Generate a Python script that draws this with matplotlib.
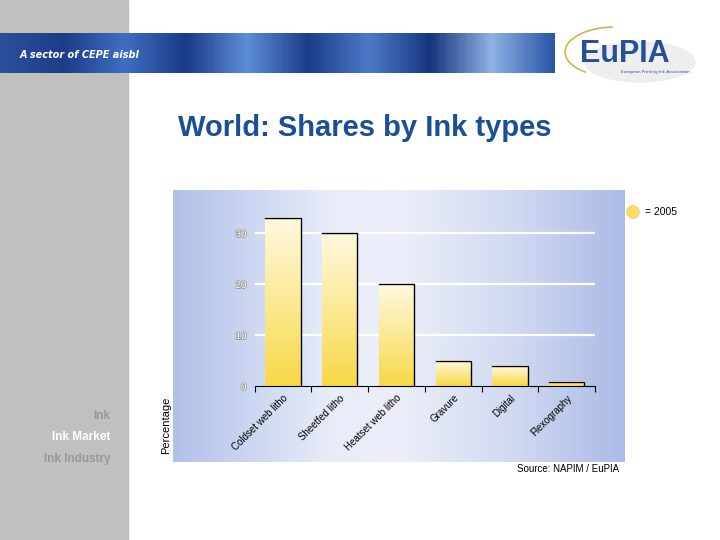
import numpy as np
import matplotlib.pyplot as plt
from matplotlib.colors import LinearSegmentedColormap
from matplotlib.patches import Rectangle, Circle, Arc, Ellipse
import matplotlib.patheffects as pe

categories = ["Coldset web litho", "Sheetfed litho", "Heatset web litho",
              "Gravure", "Digital", "Flexography"]
shares_2005 = [33, 30, 20, 5, 4, 0.8]
y_ticks = [0, 10, 20, 30]
side_menu = ["Ink", "Ink Market", "Ink Industry"]

W, H = 720, 540
fig = plt.figure(figsize=(7.2, 5.4), dpi=100)
fig.patch.set_facecolor("white")


def fax(x0, y0, x1, y1, z=0):
    # axes placed in pixel coords, y measured from top
    ax = fig.add_axes([x0 / W, 1 - y1 / H, (x1 - x0) / W, (y1 - y0) / H], zorder=z)
    ax.set_axis_off()
    return ax


# page decoration
deco = fax(0, 0, W, H, z=0)
deco.set_xlim(0, W)
deco.set_ylim(H, 0)
deco.add_patch(Rectangle((0, 0), 128, H, color="#c0c0c0"))

band = LinearSegmentedColormap.from_list(
    "band", ["#2b4f9c", "#1d3c88", "#3f6fc2", "#1a3a86", "#5d8fd6",
             "#1b3c8a", "#4b7bc8", "#17357e", "#8fb2e4", "#2a58a8"])
deco.imshow(np.linspace(0, 1, 200)[None, :], cmap=band, aspect="auto",
            extent=[0, 555, 73, 33], zorder=1)
deco.text(20, 55, "A sector of CEPE aisbl", color="white", fontsize=7,
          style="italic", weight="bold", va="center", zorder=2)

# logo
deco.add_patch(Ellipse((640, 62), 110, 40, color="#eeeeee", zorder=1))
deco.add_patch(Arc((615, 52), 100, 50, theta1=145, theta2=265,
                   color="#d6b24a", lw=1.2, zorder=2))
deco.text(625, 54, "EuPIA", color="#2a4f9a", fontsize=22, weight="bold",
          ha="center", va="center", family="Liberation Sans", zorder=3)
deco.text(655, 72, "European Printing Ink Association", color="#2a4f9a",
          fontsize=3, ha="center", va="center", zorder=3)

deco.text(365, 128, "World: Shares by Ink types", color="#1a4f96", fontsize=21,
          weight="bold", ha="center", va="center", family="Liberation Sans")
menu_colors = ["#999999", "white", "#999999"]
for i, (t, c) in enumerate(zip(side_menu, menu_colors)):
    deco.text(110, 416 + i * 21.5, t, color=c, fontsize=8.5, weight="bold",
              ha="right", va="center", family="Liberation Sans")

# chart panel background
panel = fax(173, 190, 625, 462, z=1)
bg = LinearSegmentedColormap.from_list(
    "bg", [(0, "#b2c1ea"), (0.35, "#e9edf9"), (0.5, "#eceff9"),
           (0.75, "#d2daf2"), (1, "#abbbe7")])
panel.imshow(np.linspace(0, 1, 256)[None, :], cmap=bg, aspect="auto",
             extent=[0, 1, 0, 1])
panel.set_xlim(0, 1)
panel.set_ylim(0, 1)

deco2 = fax(0, 0, W, H, z=3)
deco2.set_xlim(0, W)
deco2.set_ylim(H, 0)
deco2.patch.set_alpha(0)
deco2.text(166, 425, "Percentage", rotation=90, fontsize=8, ha="center",
           va="center", family="Liberation Sans")
deco2.text(568, 469, "Source: NAPIM / EuPIA", fontsize=7, ha="center",
           va="center", family="Liberation Sans")
gold = LinearSegmentedColormap.from_list("gold", ["#f8d948", "#fff9e0"])
deco2.add_patch(Circle((633, 212), 6.5, color="#f7dc6a", ec="#f0d070", lw=0.5))
deco2.text(645, 212, "= 2005", fontsize=7.5, va="center",
           family="Liberation Sans")

# bar chart
ax = fig.add_axes([254.7 / W, 1 - 386 / H, 340.3 / W, 173.4 / H], zorder=2)
ax.patch.set_alpha(0)
n = len(categories)
x = np.arange(n)
bw = 0.62
for yt in y_ticks[1:]:
    ax.axhline(yt, color="white", lw=1.6, zorder=1)
for xi, v in zip(x, shares_2005):
    ax.imshow(np.linspace(0, 1, 100)[:, None], cmap=gold, aspect="auto",
              origin="lower", extent=[xi - bw / 2, xi + bw / 2, 0, v], zorder=2)
    ax.plot([xi - bw / 2, xi + bw / 2, xi + bw / 2], [v, v, 0],
            color="black", lw=1, zorder=3, solid_joinstyle="miter")
ax.set_xlim(-0.5, n - 0.5)
ax.set_ylim(0, 34)

for s in ["top", "right", "left"]:
    ax.spines[s].set_visible(False)
ax.spines["bottom"].set_color("black")
ax.set_xticks(np.arange(n + 1) - 0.5)
ax.set_xticklabels([])
ax.tick_params(axis="x", which="major", direction="out", length=4, color="black")
ax.set_xticks(x, minor=True)
ax.set_xticklabels(categories, minor=True, rotation=45, ha="right",
                   rotation_mode="anchor", fontsize=7, family="Liberation Sans")
ax.tick_params(axis="x", which="minor", length=0, pad=5)
ax.set_yticks(y_ticks)
ax.set_yticklabels([str(t) for t in y_ticks], color="white", fontsize=7,
                   family="Liberation Sans")
for lbl in ax.get_yticklabels():
    lbl.set_path_effects([pe.withStroke(linewidth=1.2, foreground="#9a9a9a")])
ax.tick_params(axis="y", length=0, pad=6)

fig.savefig("out.png", dpi=100)
